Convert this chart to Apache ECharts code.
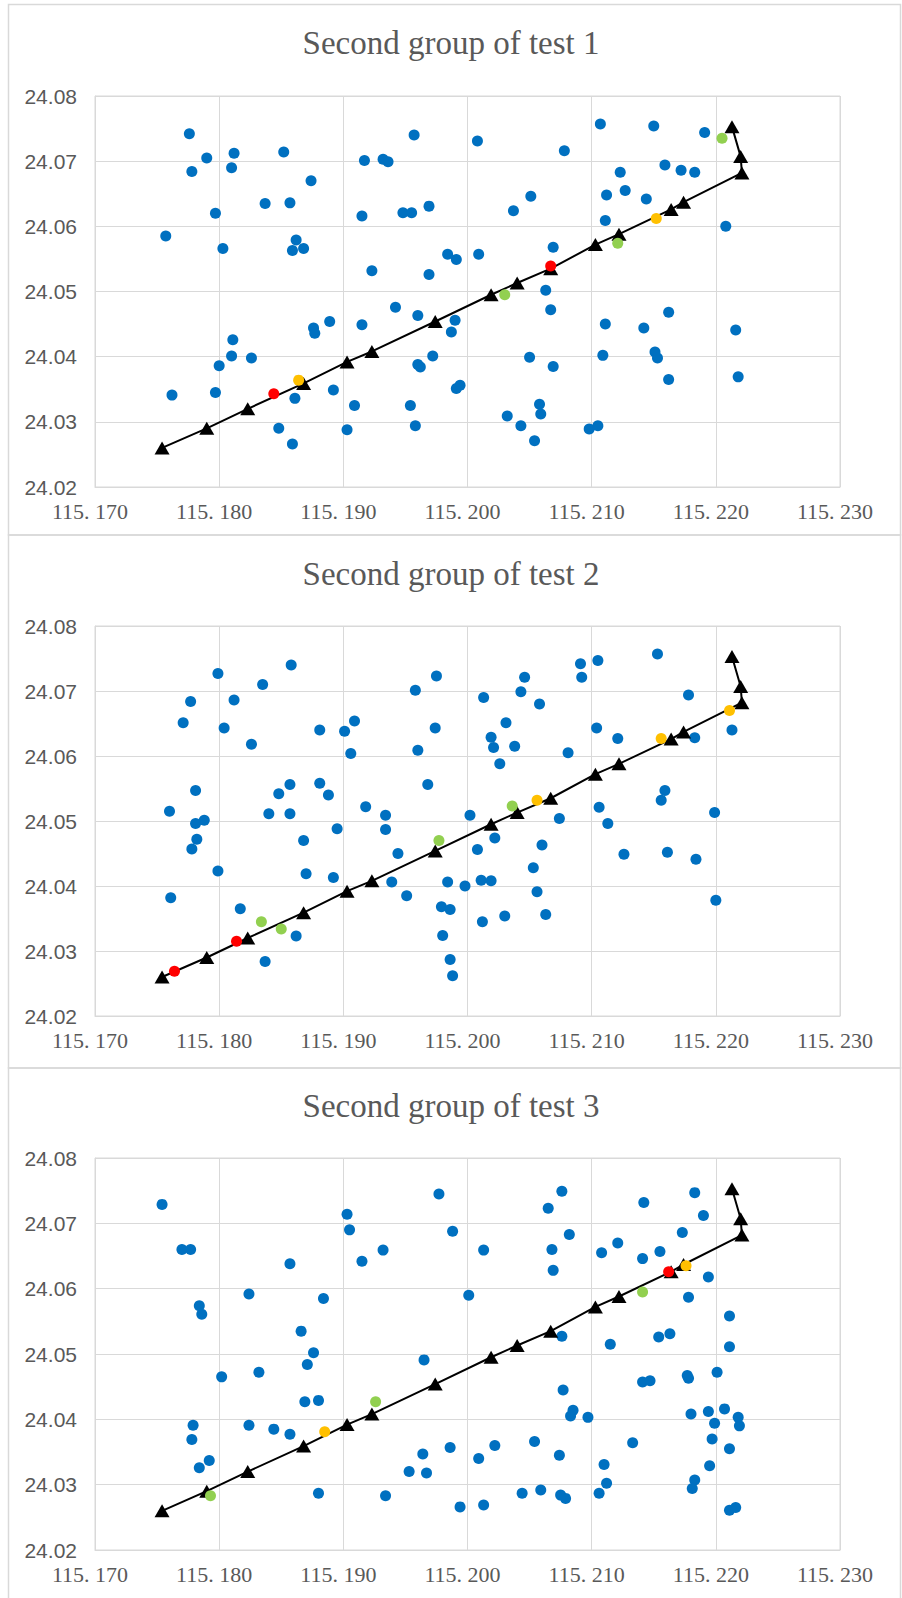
<!DOCTYPE html>
<html>
<head>
<meta charset="utf-8">
<script src="https://cdn.jsdelivr.net/npm/echarts@6/dist/echarts.min.js"></script>
<style>
  html, body { margin: 0; padding: 0; background: #ffffff; }
  #chart { width: 902px; height: 1598px; }
</style>
</head>
<body>
<div id="chart"></div>
<script>
// ---- axis ticks ----
const xTickLabels = ['115. 170', '115. 180', '115. 190', '115. 200', '115. 210', '115. 220', '115. 230'];
const yTickLabels = ['24.02', '24.03', '24.04', '24.05', '24.06', '24.07', '24.08'];
const X_MIN = 115.17, X_MAX = 115.23, X_STEP = 0.01;
const Y_MIN = 24.02, Y_MAX = 24.08, Y_STEP = 0.01;

// ---- planned route (same in every test) ----
const routeLon = [115.1754, 115.1790, 115.1823, 115.1868, 115.1903, 115.1923, 115.1974, 115.2019, 115.2040,
                  115.2067, 115.2103, 115.2122, 115.2164, 115.2174, 115.2221, 115.2220, 115.2213];
const routeLat = [24.0260, 24.0290, 24.0320, 24.0359, 24.0392, 24.0408, 24.0454, 24.0495, 24.0513,
                  24.0535, 24.0572, 24.0588, 24.0626, 24.0637, 24.0682, 24.0707, 24.0753];

// ---- test 1 ----
const test1Blue = [
  [115.1776, 24.0742], [115.1790, 24.0705], [115.1778, 24.0684], [115.1812, 24.0712], [115.1810, 24.0690],
  [115.1852, 24.0714], [115.1874, 24.0670], [115.1837, 24.0635], [115.1857, 24.0636], [115.1797, 24.0620],
  [115.1757, 24.0585], [115.1803, 24.0566], [115.1862, 24.0579], [115.1859, 24.0563], [115.1868, 24.0566],
  [115.1917, 24.0701], [115.1932, 24.0703], [115.1936, 24.0699], [115.1957, 24.0740], [115.1915, 24.0616],
  [115.1948, 24.0621], [115.1955, 24.0621], [115.1969, 24.0631], [115.1984, 24.0557], [115.1991, 24.0549],
  [115.1923, 24.0532], [115.1969, 24.0526],
  [115.1942, 24.0476], [115.1960, 24.0463], [115.1915, 24.0449], [115.1889, 24.0454], [115.1876, 24.0444],
  [115.1877, 24.0436], [115.1990, 24.0456], [115.1987, 24.0438], [115.1811, 24.0426], [115.1810, 24.0401],
  [115.1826, 24.0398], [115.1800, 24.0386], [115.1972, 24.0401], [115.1960, 24.0388], [115.1962, 24.0384],
  [115.1762, 24.0341], [115.1797, 24.0345], [115.1861, 24.0336], [115.1892, 24.0349], [115.1909, 24.0325],
  [115.1954, 24.0325], [115.1848, 24.0290], [115.1859, 24.0266], [115.1903, 24.0288], [115.1958, 24.0294],
  [115.2008, 24.0731], [115.2078, 24.0716], [115.2107, 24.0757], [115.2150, 24.0754], [115.2191, 24.0744],
  [115.2123, 24.0683], [115.2159, 24.0694], [115.2172, 24.0686], [115.2183, 24.0683], [115.2112, 24.0648],
  [115.2127, 24.0655], [115.2144, 24.0642], [115.2051, 24.0646], [115.2037, 24.0624], [115.2111, 24.0609],
  [115.2208, 24.0600], [115.2069, 24.0568], [115.2009, 24.0557],
  [115.2063, 24.0502], [115.2067, 24.0472], [115.2111, 24.0450], [115.2142, 24.0444], [115.2162, 24.0468],
  [115.2216, 24.0441], [115.2050, 24.0399], [115.2069, 24.0385], [115.2109, 24.0402], [115.2151, 24.0407],
  [115.2153, 24.0398], [115.2162, 24.0365], [115.2218, 24.0369], [115.1991, 24.0351], [115.1994, 24.0356],
  [115.2058, 24.0327], [115.2059, 24.0312], [115.2032, 24.0309], [115.2043, 24.0294], [115.2054, 24.0271],
  [115.2098, 24.0289], [115.2105, 24.0294]
];
const test1Red = [[115.1844, 24.0343], [115.2067, 24.0539]];
const test1Yellow = [[115.1864, 24.0364], [115.2152, 24.0612]];
const test1Green = [[115.2030, 24.0495], [115.2121, 24.0574], [115.2205, 24.0735]];

// ---- test 2 ----
const test2Blue = [
  [115.1799, 24.0727], [115.1777, 24.0684], [115.1771, 24.0651], [115.1812, 24.0686], [115.1804, 24.0643],
  [115.1835, 24.0710], [115.1858, 24.0740], [115.1826, 24.0618], [115.1881, 24.0640], [115.1901, 24.0638],
  [115.1909, 24.0654], [115.1906, 24.0604], [115.1958, 24.0701], [115.1975, 24.0723], [115.1974, 24.0643],
  [115.1960, 24.0609], [115.1781, 24.0547], [115.1848, 24.0542], [115.1857, 24.0556], [115.1881, 24.0558],
  [115.1888, 24.0540], [115.1968, 24.0556], [115.1918, 24.0522], [115.1760, 24.0515], [115.1840, 24.0511],
  [115.1857, 24.0511], [115.1934, 24.0509],
  [115.1781, 24.0496], [115.1788, 24.0501], [115.1782, 24.0472], [115.1778, 24.0457], [115.1799, 24.0423],
  [115.1761, 24.0382], [115.1817, 24.0365], [115.1895, 24.0488], [115.1934, 24.0487], [115.1868, 24.0470],
  [115.1944, 24.0450], [115.1870, 24.0419], [115.1892, 24.0413], [115.1939, 24.0406], [115.1951, 24.0385],
  [115.1862, 24.0323], [115.1837, 24.0284],
  [115.2002, 24.0509], [115.2074, 24.0504], [115.2106, 24.0521], [115.2113, 24.0496], [115.2199, 24.0513],
  [115.2156, 24.0532], [115.2159, 24.0547], [115.2022, 24.0474], [115.2008, 24.0456], [115.2060, 24.0463],
  [115.2053, 24.0428], [115.2126, 24.0449], [115.2161, 24.0452], [115.2184, 24.0441], [115.1984, 24.0406],
  [115.1998, 24.0400], [115.2011, 24.0409], [115.2019, 24.0408], [115.2056, 24.0391], [115.2200, 24.0378],
  [115.1979, 24.0368], [115.1986, 24.0364], [115.2012, 24.0345], [115.2030, 24.0354], [115.2063, 24.0356],
  [115.1980, 24.0324], [115.1986, 24.0287], [115.1988, 24.0262],
  [115.2013, 24.0690], [115.2046, 24.0721], [115.2043, 24.0699], [115.2058, 24.0680], [115.2091, 24.0742],
  [115.2092, 24.0721], [115.2105, 24.0747], [115.2153, 24.0757], [115.2178, 24.0694], [115.2031, 24.0651],
  [115.2019, 24.0629], [115.2021, 24.0613], [115.2038, 24.0615], [115.2026, 24.0588], [115.2081, 24.0605],
  [115.2104, 24.0643], [115.2121, 24.0627], [115.2183, 24.0628], [115.2213, 24.0640]
];
const test2Red = [[115.1764, 24.0269], [115.1814, 24.0315]];
const test2Yellow = [[115.2056, 24.0532], [115.2156, 24.0627], [115.2211, 24.0670]];
const test2Green = [[115.1834, 24.0345], [115.1850, 24.0334], [115.1977, 24.0470], [115.2036, 24.0523]];

// ---- test 3 ----
const test3Blue = [
  [115.1754, 24.0729], [115.1770, 24.0660], [115.1777, 24.0660], [115.1784, 24.0574], [115.1786, 24.0561],
  [115.1824, 24.0592], [115.1857, 24.0638], [115.1884, 24.0585], [115.1866, 24.0535], [115.1903, 24.0714],
  [115.1905, 24.0690], [115.1915, 24.0642], [115.1932, 24.0659], [115.1977, 24.0745], [115.1988, 24.0688],
  [115.2013, 24.0659], [115.2076, 24.0749], [115.2065, 24.0723], [115.2082, 24.0683], [115.2068, 24.0660],
  [115.2069, 24.0628], [115.2001, 24.0590], [115.2142, 24.0732], [115.2183, 24.0747], [115.2190, 24.0712],
  [115.2173, 24.0686], [115.2108, 24.0655], [115.2121, 24.0670], [115.2141, 24.0646], [115.2155, 24.0657],
  [115.2194, 24.0618], [115.2178, 24.0587], [115.2211, 24.0558], [115.2076, 24.0527], [115.2115, 24.0515],
  [115.2154, 24.0526], [115.2163, 24.0531], [115.2211, 24.0511],
  [115.2077, 24.0445], [115.2085, 24.0414], [115.2083, 24.0405], [115.2097, 24.0403], [115.2141, 24.0457],
  [115.2147, 24.0459], [115.2177, 24.0467], [115.2178, 24.0463], [115.2201, 24.0472], [115.2180, 24.0408],
  [115.2194, 24.0412], [115.2207, 24.0416], [115.2218, 24.0403], [115.2219, 24.0390], [115.2199, 24.0394],
  [115.2197, 24.0370], [115.2211, 24.0355], [115.2195, 24.0329], [115.2183, 24.0307], [115.2181, 24.0294],
  [115.2211, 24.0261], [115.2216, 24.0265], [115.2133, 24.0364], [115.2110, 24.0331], [115.2112, 24.0302],
  [115.2106, 24.0287], [115.2054, 24.0366], [115.2074, 24.0345], [115.2075, 24.0284], [115.2079, 24.0279],
  [115.2059, 24.0292], [115.2044, 24.0287], [115.1986, 24.0357], [115.2009, 24.0340], [115.2022, 24.0360],
  [115.1994, 24.0266], [115.2013, 24.0269],
  [115.1876, 24.0502], [115.1871, 24.0484], [115.1802, 24.0465], [115.1832, 24.0472], [115.1869, 24.0427],
  [115.1880, 24.0429], [115.1965, 24.0491], [115.1779, 24.0391], [115.1778, 24.0369], [115.1824, 24.0391],
  [115.1844, 24.0385], [115.1857, 24.0377], [115.1792, 24.0337], [115.1784, 24.0326], [115.1880, 24.0287],
  [115.1934, 24.0283], [115.1953, 24.0320], [115.1967, 24.0318], [115.1964, 24.0347]
];
const test3Red = [[115.2162, 24.0626]];
const test3Yellow = [[115.1885, 24.0381], [115.2176, 24.0635]];
const test3Green = [[115.1793, 24.0283], [115.1926, 24.0427], [115.2141, 24.0595]];

const panelTitles = ['Second group of test 1', 'Second group of test 2', 'Second group of test 3'];

// ---- layout of the three stacked charts ----
const panels = [
  { title: panelTitles[0], blue: test1Blue, red: test1Red, yellow: test1Yellow, green: test1Green,
    frameTop: 4.5, frameBottom: 535, titleTop: 26, gridTop: 96, gridHeight: 391 },
  { title: panelTitles[1], blue: test2Blue, red: test2Red, yellow: test2Yellow, green: test2Green,
    frameTop: 535, frameBottom: 1068, titleTop: 557, gridTop: 626, gridHeight: 390 },
  { title: panelTitles[2], blue: test3Blue, red: test3Red, yellow: test3Yellow, green: test3Green,
    frameTop: 1068, frameBottom: 1610, titleTop: 1089, gridTop: 1158, gridHeight: 392 }
];

const GRID_LEFT = 95, GRID_WIDTH = 745;
const FRAME_LEFT = 8.5, FRAME_RIGHT = 900.5;
const GRID_COLOR = '#d9d9d9';
const TEXT_COLOR = '#595959';

const routeData = routeLon.map((lon, i) => [lon, routeLat[i]]);

const option = {
  animation: false,
  backgroundColor: '#ffffff',
  title: [], grid: [], xAxis: [], yAxis: [], series: [],
  graphic: []
};

const dotStyle = color => ({ color: color, opacity: 1 });

panels.forEach((p, i) => {
  option.graphic.push({
    type: 'rect', silent: true, z: -10,
    shape: { x: FRAME_LEFT, y: p.frameTop, width: FRAME_RIGHT - FRAME_LEFT, height: p.frameBottom - p.frameTop },
    style: { fill: 'none', stroke: GRID_COLOR, lineWidth: 1.5 }
  });
  option.title.push({
    text: p.title, left: 'center', top: p.titleTop, padding: 0,
    textStyle: { fontFamily: 'Liberation Serif', fontSize: 33, fontWeight: 'normal', color: TEXT_COLOR }
  });
  option.grid.push({
    left: GRID_LEFT, top: p.gridTop, width: GRID_WIDTH, height: p.gridHeight,
    show: true, borderColor: GRID_COLOR, borderWidth: 1, backgroundColor: 'transparent'
  });
  option.xAxis.push({
    gridIndex: i, type: 'value', min: X_MIN, max: X_MAX, interval: X_STEP,
    axisLine: { show: true, lineStyle: { color: GRID_COLOR, width: 1 } },
    axisTick: { show: false },
    splitLine: { show: true, lineStyle: { color: GRID_COLOR, width: 1 } },
    axisLabel: {
      showMinLabel: true, showMaxLabel: true, hideOverlap: false,
      margin: 13, padding: [0, 10, 0, 0],
      fontFamily: 'Liberation Serif', fontSize: 22, color: TEXT_COLOR,
      formatter: v => xTickLabels[Math.round((v - X_MIN) / X_STEP)]
    }
  });
  option.yAxis.push({
    gridIndex: i, type: 'value', min: Y_MIN, max: Y_MAX, interval: Y_STEP,
    axisLine: { show: true, lineStyle: { color: GRID_COLOR, width: 1 } },
    axisTick: { show: false },
    splitLine: { show: true, lineStyle: { color: GRID_COLOR, width: 1 } },
    axisLabel: {
      showMinLabel: true, showMaxLabel: true, hideOverlap: false,
      margin: 18, fontFamily: 'Liberation Sans', fontSize: 21, color: TEXT_COLOR,
      formatter: v => yTickLabels[Math.round((v - Y_MIN) / Y_STEP)]
    }
  });
  const base = { xAxisIndex: i, yAxisIndex: i, silent: true };
  option.series.push(Object.assign({
    type: 'scatter', data: p.blue, symbol: 'circle', symbolSize: 11,
    itemStyle: dotStyle('#0070c0'), z: 2
  }, base));
  option.series.push(Object.assign({
    type: 'line', data: routeData, symbol: 'triangle', symbolSize: [15, 13], showSymbol: true,
    lineStyle: { color: '#000000', width: 2 }, itemStyle: { color: '#000000', opacity: 1 }, z: 3
  }, base));
  option.series.push(Object.assign({
    type: 'scatter', data: p.yellow, symbol: 'circle', symbolSize: 11,
    itemStyle: dotStyle('#ffc000'), z: 4
  }, base));
  option.series.push(Object.assign({
    type: 'scatter', data: p.green, symbol: 'circle', symbolSize: 11,
    itemStyle: dotStyle('#92d050'), z: 4
  }, base));
  option.series.push(Object.assign({
    type: 'scatter', data: p.red, symbol: 'circle', symbolSize: 11,
    itemStyle: dotStyle('#ff0000'), z: 4
  }, base));
});

const chart = echarts.init(document.getElementById('chart'), null, { renderer: 'svg', width: 902, height: 1598 });
chart.setOption(option);
</script>
</body>
</html>
